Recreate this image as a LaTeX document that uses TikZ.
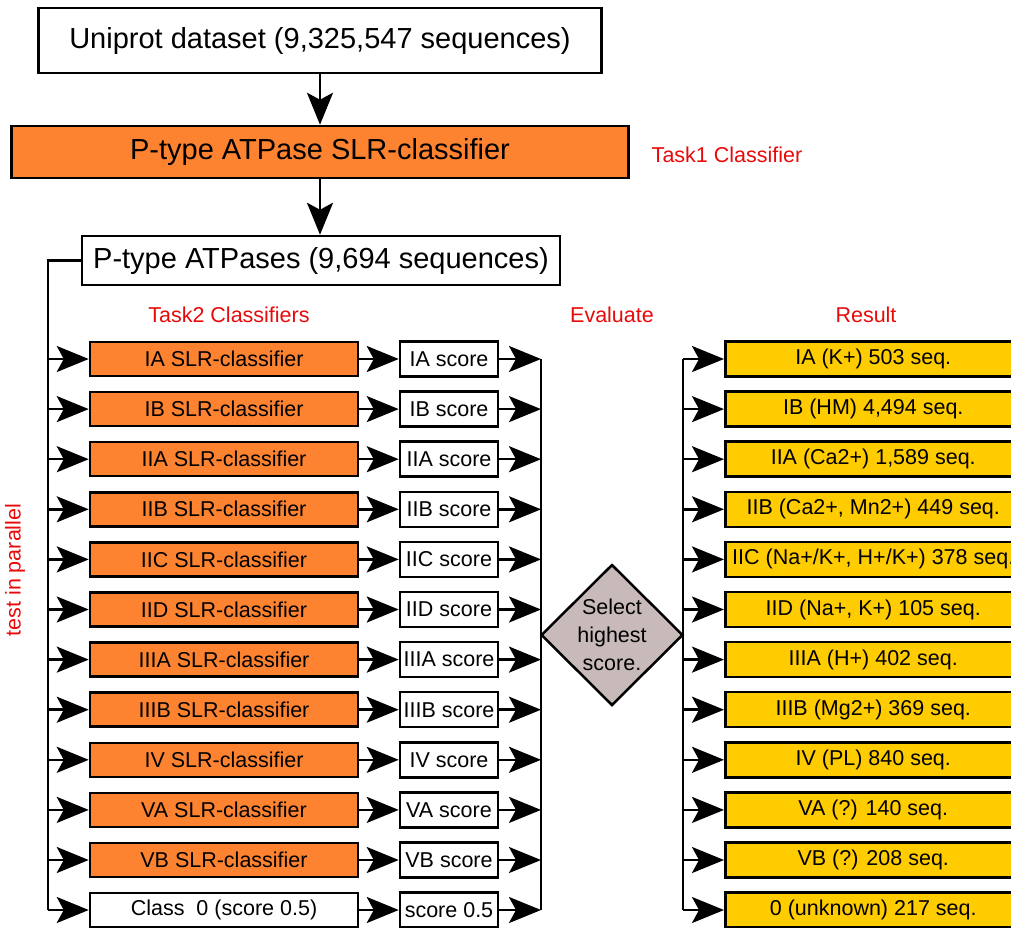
\documentclass[tikz,border=0pt]{standalone}
\usepackage{fontspec}
\setmainfont{Liberation Sans}
\usetikzlibrary{arrows.meta,shapes.geometric}
\definecolor{clsorange}{RGB}{253,131,49}
\definecolor{resyellow}{RGB}{255,204,0}
\definecolor{selgray}{RGB}{201,186,186}
\definecolor{notered}{RGB}{232,10,10}

\begin{document}
\begin{tikzpicture}[
            x=1pt, y=-1pt,
            line width=2.5pt,
            every node/.style={font=\fontsize{21.5}{28}\selectfont},
            box/.style={draw,rectangle,inner sep=2pt},
            bigbox/.style={box,font=\fontsize{29}{34}\selectfont},
            clsbox/.style={box,fill=clsorange,minimum width=268pt,minimum height=34pt},
            scorebox/.style={box,fill=white,minimum width=98pt,minimum height=35pt},
            resbox/.style={box,fill=resyellow,minimum width=296pt,minimum height=35pt,anchor=west},
            arr/.style={-{Stealth[length=32pt,width=26pt,inset=7pt]}},
            note/.style={text=notered},
            ]
            \useasboundingbox (0,0) rectangle (1011,927);
            \clip (0,0) rectangle (1011,927);

            \node[bigbox,minimum width=563pt,minimum height=65pt] (uniprot) at (320,40.5)
                {Uniprot dataset (9,325,547 sequences)};
            \node[bigbox,fill=clsorange,minimum width=617pt,minimum height=52pt] (slr) at (320,152)
                {P-type ATPase SLR-classifier};
            \node[bigbox,minimum width=478pt,minimum height=49pt] (ptype) at (321,260.5)
                {P-type ATPases (9,694 sequences)};
            \draw[arr] (uniprot.south) -- (slr.north);
            \draw[arr] (slr.south) -- (slr.south |- ptype.north);

            \node[note] (task1) at (727,155) {Task1 Classifier};
            \node[note] (task2) at (229,315) {Task2 Classifiers};
            \node[note] (evaluate) at (612,315) {Evaluate};
            \node[note] (result) at (866,315) {Result};
            \node[note,rotate=90] (parallel) at (15,570) {test in parallel};

            \foreach \cl/\res [count=\i from 0] in {
                    IA/{IA (K+) 503 seq.},
                    IB/{IB (HM) 4{,}494 seq.},
                    IIA/{IIA (Ca2+) 1{,}589 seq.},
                    IIB/{IIB (Ca2+{,} Mn2+) 449 seq.},
                    IIC/{IIC (Na+/K+{,} H+/K+) 378 seq.},
                    IID/{IID (Na+{,} K+) 105 seq.},
                    IIIA/{IIIA (H+) 402 seq.},
                    IIIB/{IIIB (Mg2+) 369 seq.},
                    IV/{IV (PL) 840 seq.},
                    VA/{VA (?) 140 seq.},
                    VB/{VB (?) 208 seq.}} {
                \pgfmathsetmacro\y{359+50.1*\i}
                \node[clsbox] (cls\i) at (224,\y) {\cl\ SLR-classifier};
                \node[scorebox] (score\i) at (449,\y) {\cl\ score};
                \node[resbox] (res\i) at (724,\y) {\res};
                \coordinate (in\i) at (48,\y);
                \coordinate (busl\i) at (541,\y);
                \coordinate (busr\i) at (683,\y);
                \draw[arr] (in\i) -- (cls\i);
                \draw[arr] (cls\i) -- (score\i);
                \draw[arr] (score\i) -- (busl\i);
                \draw[arr] (busr\i) -- (res\i);
            }

            \node[clsbox,fill=white] (cls11) at (224,910) {Class\ \ 0 (score 0.5)};
            \node[scorebox] (score11) at (449,910) {score 0.5};
            \node[resbox] (res11) at (724,910) {0 (unknown) 217 seq.};
            \coordinate (in11) at (48,910);
            \coordinate (busl11) at (541,910);
            \coordinate (busr11) at (683,910);
            \draw[arr] (in11) -- (cls11);
            \draw[arr] (cls11) -- (score11);
            \draw[arr] (score11) -- (busl11);
            \draw[arr] (busr11) -- (res11);

            \draw (ptype.west) -| (in11);
            \draw (busl0) -- (busl11);
            \draw (busr0) -- (busr11);

            \node[diamond,draw,fill=selgray,minimum width=142pt,minimum height=141pt,
                inner sep=-6pt,align=center] (select) at (612,635) {Select\\highest\\score.};
        \end{tikzpicture}
\end{document}
